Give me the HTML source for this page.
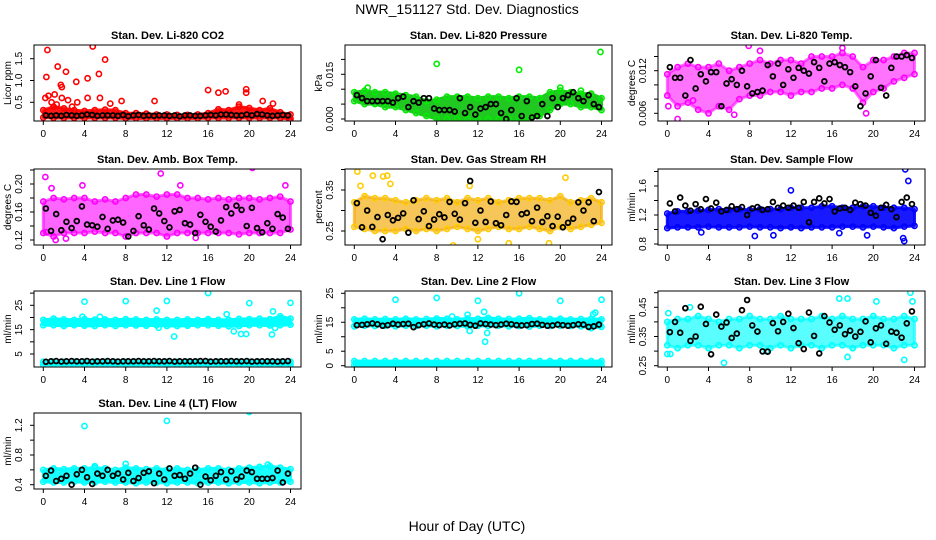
<!DOCTYPE html>
<html><head><meta charset="utf-8"><style>
html,body{margin:0;padding:0;background:#fff;}
svg{display:block;font-family:"Liberation Sans",sans-serif;}
</style></head><body>
<svg id="chart" width="936" height="540" viewBox="0 0 936 540">
<text x="467" y="14" text-anchor="middle" font-size="14">NWR_151127  Std. Dev. Diagnostics</text>
<text x="467" y="531" text-anchor="middle" font-size="14">Hour of Day (UTC)</text>
</svg>
<script>
const hours = [0,1,2,3,4,5,6,7,8,9,10,11,12,13,14,15,16,17,18,19,20,21,22,23,24];
const xTicks = [0,4,8,12,16,20,24];

const co2Lo = [0.15,0.14,0.14,0.14,0.14,0.14,0.14,0.14,0.13,0.13,0.13,0.13,0.13,0.13,0.13,0.13,0.14,0.14,0.14,0.14,0.14,0.14,0.14,0.14,0.12];
const co2Hi = [0.32,0.4,0.36,0.32,0.3,0.32,0.33,0.32,0.25,0.25,0.24,0.22,0.22,0.21,0.21,0.22,0.25,0.34,0.32,0.4,0.37,0.32,0.36,0.27,0.22];
const co2Black = [0.2,0.19,0.2,0.19,0.21,0.2,0.19,0.2,0.22,0.21,0.19,0.2,0.2,0.2,0.19,0.21,0.18,0.2,0.21,0.19,0.2,0.19,0.2,0.2,0.19,0.2,0.18,0.2,0.2,0.19,0.19,0.2,0.21,0.2,0.22,0.22,0.21,0.2,0.2,0.22,0.2,0.23,0.22,0.2,0.19,0.2,0.21,0.2];
const co2Out = [[0.4,1.7],[0.3,1.08],[0.2,0.6],[0.5,0.65],[1.4,1.32],[1.7,0.9],[1.8,0.85],[2.2,1.2],[3.2,0.97],[4.3,1.05],[4.8,1.78],[5.4,1.15],[6,1.48],[1.1,0.68],[1.8,0.6],[4.3,0.6],[5.5,0.6],[10.8,0.53],[16,0.78],[17,0.72],[17.7,0.75],[19.7,0.8],[19.7,0.72],[21.3,0.53],[7.6,0.53],[2.4,0.55],[3.3,0.5],[6.5,0.47],[23.9,0.1],[1.3,0.45],[0.8,0.5],[2.8,0.4],[19,0.45],[22.3,0.47]];
const co2Ticks = [0.5,1.0,1.5];
const co2Labels = ["0.5","1.0","1.5"];

const prsLo = [0.006,0.005,0.005,0.004,0.004,0.003,0.002,0.001,0.0,0.0,0.0,0.0,0.0,0.0,0.0,0.0,0.0,0.0,0.001,0.003,0.005,0.005,0.004,0.004,0.003];
const prsHi = [0.009,0.0095,0.009,0.009,0.0085,0.008,0.0075,0.006,0.0065,0.0075,0.0075,0.0075,0.007,0.0075,0.0075,0.007,0.0075,0.0075,0.007,0.009,0.0095,0.009,0.0085,0.0085,0.007];
const prsBlack = [0.008,0.007,0.006,0.006,0.006,0.006,0.006,0.0055,0.007,0.0075,0.004,0.006,0.0055,0.007,0.007,0.0035,0.003,0.003,0.003,0.0025,0.007,0.002,0.004,0.0015,0.0035,0.004,0.005,0.005,0.002,0.0,0.003,0.007,0.001,0.006,0.0005,0.001,0.005,0.001,0.007,0.004,0.007,0.008,0.009,0.007,0.006,0.008,0.005,0.004];
const prsOut = [[8,0.0185],[16,0.0165],[23.9,0.0225],[20,0.0105],[1.3,0.0105],[22,0.0095]];
const prsTicks = [0.000,0.005,0.010,0.015,0.020];
const prsLabels = ["0.000","","","0.015",""];

const tmpLo = [0.0085,0.007,0.0075,0.0065,0.006,0.007,0.0065,0.008,0.0085,0.0085,0.009,0.009,0.0085,0.009,0.009,0.0095,0.0095,0.01,0.0095,0.0075,0.009,0.0095,0.0105,0.011,0.0115];
const tmpHi = [0.0115,0.0125,0.013,0.0125,0.0125,0.013,0.012,0.0125,0.013,0.0135,0.013,0.0135,0.0135,0.013,0.014,0.014,0.014,0.0145,0.014,0.0125,0.0135,0.0135,0.014,0.0145,0.0145];
const tmpBlack = [0.0125,0.011,0.011,0.0085,0.0135,0.0095,0.0115,0.0105,0.0118,0.0118,0.007,0.0102,0.0108,0.0100,0.0120,0.0098,0.0088,0.0090,0.0092,0.0128,0.0112,0.0130,0.0100,0.0122,0.0110,0.0124,0.0120,0.0116,0.0132,0.0124,0.0105,0.0130,0.0132,0.0128,0.0125,0.0118,0.0098,0.0070,0.0088,0.0112,0.0135,0.0096,0.0085,0.0124,0.0140,0.0140,0.0142,0.0138];
const tmpOut = [[0.1,0.007],[1,0.0052],[7.9,0.0155],[9,0.0148],[19.3,0.006],[17,0.0152],[2.5,0.0078],[6.5,0.0058]];
const tmpTicks = [0.006,0.008,0.010,0.012,0.014];
const tmpLabels = ["0.006","","","0.012",""];

const ambLo = [0.13,0.125,0.13,0.13,0.13,0.132,0.13,0.13,0.125,0.13,0.13,0.13,0.125,0.13,0.13,0.13,0.13,0.13,0.13,0.128,0.13,0.13,0.13,0.13,0.135];
const ambHi = [0.175,0.18,0.178,0.18,0.18,0.175,0.178,0.175,0.18,0.185,0.185,0.182,0.185,0.185,0.18,0.18,0.178,0.18,0.178,0.18,0.18,0.178,0.18,0.182,0.175];
const ambBlack = [0.165,0.133,0.157,0.134,0.146,0.137,0.147,0.168,0.142,0.141,0.139,0.153,0.136,0.148,0.149,0.145,0.125,0.133,0.154,0.141,0.135,0.165,0.158,0.147,0.138,0.161,0.163,0.144,0.142,0.130,0.156,0.146,0.139,0.132,0.148,0.167,0.158,0.169,0.163,0.140,0.166,0.137,0.131,0.144,0.136,0.157,0.152,0.136];
const ambOut = [[0.2,0.21],[9.6,0.225],[11.4,0.215],[20.3,0.223],[0.3,0.131],[1.2,0.12],[3.8,0.198],[23.5,0.198],[13.3,0.198],[0.8,0.194],[2.2,0.122],[14.8,0.123]];
const ambTicks = [0.12,0.14,0.16,0.18,0.20,0.22];
const ambLabels = ["0.12","","0.16","","0.20",""];

const rhLo = [0.26,0.255,0.25,0.25,0.25,0.255,0.25,0.255,0.25,0.255,0.26,0.255,0.25,0.255,0.26,0.255,0.255,0.26,0.255,0.25,0.26,0.255,0.26,0.265,0.27];
const rhHi = [0.32,0.335,0.33,0.33,0.325,0.32,0.325,0.33,0.325,0.33,0.32,0.33,0.325,0.33,0.32,0.325,0.33,0.33,0.33,0.325,0.335,0.32,0.325,0.33,0.32];
const rhBlack = [0.318,0.259,0.300,0.260,0.284,0.230,0.289,0.276,0.282,0.293,0.246,0.325,0.279,0.298,0.262,0.278,0.291,0.283,0.321,0.292,0.278,0.318,0.372,0.270,0.300,0.272,0.322,0.269,0.264,0.289,0.322,0.321,0.291,0.294,0.274,0.307,0.272,0.286,0.262,0.285,0.259,0.270,0.280,0.320,0.300,0.320,0.274,0.345];
const rhOut = [[0.3,0.395],[1.8,0.385],[2.8,0.383],[3.2,0.385],[9.6,0.215],[20.5,0.38],[12,0.23],[18.9,0.22],[15,0.22],[0.6,0.36],[3.5,0.365],[11.2,0.36]];
const rhTicks = [0.25,0.30,0.35,0.40];
const rhLabels = ["0.25","","0.35",""];

const sfLo = [1.02,1.03,1.03,1.03,1.04,1.03,1.03,1.03,1.04,1.03,1.03,1.02,1.03,1.02,1.03,1.03,1.03,1.04,1.04,1.03,1.04,1.03,1.02,1.04,1.05];
const sfHi = [1.22,1.25,1.25,1.26,1.27,1.28,1.27,1.28,1.27,1.28,1.28,1.28,1.3,1.3,1.3,1.32,1.32,1.3,1.3,1.32,1.32,1.3,1.3,1.3,1.28];
const sfBlack = [1.36,1.25,1.44,1.33,1.26,1.35,1.28,1.42,1.29,1.37,1.25,1.27,1.32,1.28,1.31,1.20,1.29,1.31,1.27,1.28,1.38,1.30,1.33,1.30,1.33,1.30,1.38,1.10,1.38,1.43,1.36,1.42,1.25,1.29,1.30,1.27,1.37,1.35,1.33,1.23,1.19,1.30,1.34,1.28,1.17,1.38,1.44,1.35];
const sfOut = [[23.1,1.83],[23.4,1.67],[22.9,0.88],[23,0.84],[12,1.54],[8.5,0.91],[19.4,0.92],[3.3,0.96],[16.7,0.95],[10.3,0.92]];
const sfTicks = [0.8,1.0,1.2,1.4,1.6,1.8];
const sfLabels = ["0.8","","1.2","","1.6",""];

const l1Lo = [16.8,16.8,16.5,16.8,16.6,16.5,16.8,16.5,16.8,16.7,16.6,16.8,16.5,16.5,16.6,16.8,16.8,16.6,16.4,16.5,16.8,16.8,16.7,16.8,17];
const l1Hi = [19,19.5,19.2,19,19.3,19.1,19.2,19,19.3,19.2,19,19.2,19,19,19.2,19,19.3,19,19,19.4,19.3,19.5,19.3,20.5,19.5];
const l1Lo2 = [0.6,0.6,0.6,0.6,0.6,0.6,0.6,0.6,0.6,0.6,0.6,0.6,0.6,0.6,0.6,0.6,0.6,0.6,0.6,0.6,0.6,0.6,0.6,0.6,0.6];
const l1Hi2 = [1.8,1.8,1.8,1.8,1.8,1.8,1.8,1.8,1.8,1.8,1.8,1.8,1.8,1.8,1.8,1.8,1.8,1.8,1.8,1.8,1.8,1.8,1.8,1.8,1.8];
const l1Black = [1.8,2.0,2.1,1.9,2.0,2.1,2.0,2.0,2.1,1.9,2.0,2.0,2.1,2.0,1.9,2.0,2.0,2.0,2.1,2.0,2.0,2.1,2.0,2.0,2.1,1.9,2.0,2.0,2.0,2.0,2.1,2.1,1.9,2.0,2.0,2.0,2.1,2.0,2.0,2.1,1.9,2.0,2.0,2.0,2.0,1.9,2.0,2.1];
const l1Out = [[4,26.5],[8,26.7],[12,26.8],[16,30],[20,25.9],[24,26],[11,22.8],[22.3,22.5],[17.8,21.3],[12.7,12.2],[18.5,14.3],[19.2,13.2],[19.7,13.2],[22.2,13],[3.8,20.3],[5.5,20.3],[11.2,15.8],[22.5,15.7]];
const l1Ticks = [5,10,15,20,25,30];
const l1Labels = ["5","","15","","25",""];

const l2Lo = [13.6,13.8,13.7,13.8,13.6,13.8,13.7,13.8,13.6,13.8,13.7,13.6,13.8,13.7,13.8,13.6,13.7,13.5,13.8,13.7,13.8,13.7,13.6,13.0,13.4];
const l2Hi = [16,16.2,16,16.1,16,16.2,16,16.1,16.3,16.2,16,16.3,16.2,16.5,16.2,16.1,16.2,16.4,16,16.1,16.2,16,16.1,16.2,16];
const l2Lo2 = [0.2,0.2,0.2,0.2,0.2,0.2,0.2,0.2,0.2,0.2,0.2,0.2,0.2,0.2,0.2,0.2,0.2,0.2,0.2,0.2,0.2,0.2,0.2,0.2,0.2];
const l2Hi2 = [1.6,1.6,1.6,1.6,1.6,1.6,1.6,1.6,1.6,1.6,1.6,1.6,1.6,1.6,1.6,1.6,1.6,1.6,1.6,1.6,1.6,1.6,1.6,1.6,1.6];
const l2Black = [14.0,14.1,14.3,14.6,14.3,13.8,14.0,14.5,14.2,14.4,14.5,13.3,14.0,14.3,14.6,14.2,14.0,14.2,13.9,14.3,14.5,14.6,14.1,13.8,14.6,14.4,14.2,14.0,14.2,14.5,14.3,14.0,13.9,14.0,14.4,14.5,14.1,13.8,13.9,14.2,14.0,13.8,14.0,14.3,14.2,13.4,13.6,14.2];
const l2Out = [[4,22.8],[8,23.4],[12,22.4],[16,25],[20,22.4],[24,22.8],[12.7,8.3],[12.9,11.3],[11,17.6],[11.2,12],[12.6,18.6],[23.2,17.8],[23.4,18.3],[9.5,17]];
const l2Ticks = [0,5,10,15,20,25];
const l2Labels = ["0","5","","15","","25"];

const l3Lo = [0.32,0.31,0.32,0.32,0.31,0.32,0.32,0.31,0.32,0.32,0.31,0.32,0.31,0.32,0.32,0.31,0.32,0.32,0.31,0.32,0.32,0.32,0.31,0.32,0.32];
const l3Hi = [0.4,0.41,0.41,0.42,0.41,0.4,0.41,0.41,0.42,0.41,0.41,0.42,0.41,0.41,0.41,0.42,0.41,0.42,0.41,0.41,0.42,0.41,0.41,0.42,0.41];
const l3Black = [0.365,0.400,0.363,0.447,0.335,0.350,0.452,0.393,0.289,0.425,0.384,0.398,0.345,0.360,0.440,0.475,0.388,0.367,0.299,0.298,0.396,0.368,0.400,0.428,0.379,0.327,0.307,0.432,0.352,0.292,0.420,0.398,0.373,0.388,0.358,0.370,0.350,0.366,0.402,0.330,0.378,0.388,0.325,0.367,0.363,0.346,0.395,0.436];
const l3Out = [[0,0.29],[0.3,0.29],[5.5,0.26],[23,0.27],[17.5,0.28],[16.7,0.48],[17.5,0.48],[23.6,0.5],[23.8,0.47],[2.2,0.45],[20.3,0.47],[0.1,0.43],[9.6,0.3]];
const l3Ticks = [0.25,0.30,0.35,0.40,0.45,0.50];
const l3Labels = ["0.25","","0.35","","0.45",""];

const l4Lo = [0.44,0.43,0.43,0.44,0.43,0.43,0.44,0.43,0.43,0.42,0.43,0.43,0.42,0.43,0.43,0.42,0.43,0.43,0.42,0.43,0.43,0.42,0.43,0.43,0.44];
const l4Hi = [0.6,0.62,0.61,0.62,0.62,0.63,0.62,0.6,0.63,0.62,0.61,0.62,0.6,0.62,0.6,0.6,0.62,0.62,0.6,0.62,0.63,0.64,0.65,0.63,0.61];
const l4Black = [0.52,0.59,0.45,0.48,0.52,0.40,0.54,0.60,0.50,0.41,0.55,0.52,0.60,0.52,0.55,0.47,0.56,0.45,0.49,0.56,0.58,0.42,0.55,0.47,0.62,0.52,0.53,0.48,0.55,0.63,0.40,0.51,0.46,0.52,0.57,0.47,0.58,0.47,0.51,0.59,0.57,0.48,0.48,0.48,0.49,0.59,0.43,0.55];
const l4Out = [[4,1.19],[12,1.26],[20,1.38],[8,0.68],[5,0.65],[21.8,0.67]];
const l4Ticks = [0.4,0.6,0.8,1.0,1.2];
const l4Labels = ["0.4","","0.8","","1.2"];

const NS = "http://www.w3.org/2000/svg";
const svg = document.getElementById("chart");
function mk(tag, attrs, parent){
  const e = document.createElementNS(NS, tag);
  for (const k in attrs) e.setAttribute(k, attrs[k]);
  (parent||svg).appendChild(e);
  return e;
}
const panels = [
 {key:"co2",title:"Stan. Dev. Li-820 CO2",ylab:"Licor ppm",left:34,top:45,color:"#ff0000",band:"#ff0000",op:0.9,v1:1.5,y1:58.7,v2:0.5,y2:102.3,lo:co2Lo,hi:co2Hi,blk:co2Black,out:co2Out,ticks:co2Ticks,labels:co2Labels},
 {key:"pressure",title:"Stan. Dev. Li-820 Pressure",ylab:"kPa",left:345,top:45,color:"#00ee00",band:"#22c822",op:1,v1:0.015,y1:74.3,v2:0,y2:119,lo:prsLo,hi:prsHi,blk:prsBlack,out:prsOut,ticks:prsTicks,labels:prsLabels},
 {key:"temp",title:"Stan. Dev. Li-820 Temp.",ylab:"degrees C",left:658,top:45,color:"#ff00ff",band:"#ff00ff",op:0.55,v1:0.012,y1:70.7,v2:0.006,y2:113.3,lo:tmpLo,hi:tmpHi,blk:tmpBlack,out:tmpOut,ticks:tmpTicks,labels:tmpLabels},
 {key:"ambtemp",title:"Stan. Dev. Amb. Box Temp.",ylab:"degrees C",left:34,top:169,color:"#ff00ff",band:"#ff00ff",op:0.6,v1:0.20,y1:184,v2:0.12,y2:240,lo:ambLo,hi:ambHi,blk:ambBlack,out:ambOut,ticks:ambTicks,labels:ambLabels},
 {key:"rh",title:"Stan. Dev. Gas Stream RH",ylab:"percent",left:345,top:169,color:"#ffcc00",band:"#f2a800",op:0.65,v1:0.35,y1:190,v2:0.25,y2:231,lo:rhLo,hi:rhHi,blk:rhBlack,out:rhOut,ticks:rhTicks,labels:rhLabels},
 {key:"sampleflow",title:"Stan. Dev. Sample Flow",ylab:"ml/min",left:658,top:169,color:"#0000ff",band:"#0000ff",op:0.9,v1:1.6,y1:186,v2:0.8,y2:244,lo:sfLo,hi:sfHi,blk:sfBlack,out:sfOut,ticks:sfTicks,labels:sfLabels},
 {key:"line1",title:"Stan. Dev. Line 1 Flow",ylab:"ml/min",left:34,top:291,color:"#00ffff",band:"#00ffff",op:1,v1:25,y1:305.3,v2:5,y2:354,lo:l1Lo,hi:l1Hi,lo2:l1Lo2,hi2:l1Hi2,blk:l1Black,out:l1Out,ticks:l1Ticks,labels:l1Labels},
 {key:"line2",title:"Stan. Dev. Line 2 Flow",ylab:"ml/min",left:345,top:291,color:"#00ffff",band:"#00ffff",op:1,v1:25,y1:293.3,v2:0,y2:365.7,lo:l2Lo,hi:l2Hi,lo2:l2Lo2,hi2:l2Hi2,blk:l2Black,out:l2Out,ticks:l2Ticks,labels:l2Labels},
 {key:"line3",title:"Stan. Dev. Line 3 Flow",ylab:"ml/min",left:658,top:291,color:"#00ffff",band:"#00ffff",op:0.65,v1:0.45,y1:307.3,v2:0.25,y2:365.7,lo:l3Lo,hi:l3Hi,blk:l3Black,out:l3Out,ticks:l3Ticks,labels:l3Labels},
 {key:"line4",title:"Stan. Dev. Line 4 (LT) Flow",ylab:"ml/min",left:34,top:413,color:"#00ffff",band:"#00ffff",op:0.9,v1:1.2,y1:425.3,v2:0.4,y2:484.7,lo:l4Lo,hi:l4Hi,blk:l4Black,out:l4Out,ticks:l4Ticks,labels:l4Labels}
];
const W = 267, H = 76;
panels.forEach(p => {
  const g = mk("g", {});
  
  
  const L = p.left, T = p.top, B = p.top + H;
  const xs = h => L + 9.3 + h * 10.3;
  const ys = v => p.y1 + (v - p.v1) * (p.y2 - p.y1) / (p.v2 - p.v1);
  const clip = "clip-" + p.key;
  const cp = mk("clipPath", {id: clip}, g);
  mk("rect", {x: L, y: T, width: W, height: H}, cp);
  const plot = mk("g", {"clip-path": "url(#" + clip + ")"}, g);
  
  
  const bands = [[p.lo, p.hi]];
  if (p.lo2) bands.push([p.lo2, p.hi2]);
  bands.forEach(([lo, hi]) => {
    let pts = hours.map((h, i) => xs(h) + "," + ys(hi[i]));
    pts = pts.concat(hours.slice().reverse().map((h, j) => xs(h) + "," + ys(lo[hours.length - 1 - j])));
    const poly = mk("polygon", {points: pts.join(" "), fill: p.band, "fill-opacity": p.op, stroke: p.band, "stroke-opacity": p.op, "stroke-width": 3, "stroke-linejoin": "round"}, plot);
    
    
    hours.forEach((h, i) => {
      [lo[i], hi[i]].forEach(v => {
        const c = mk("circle", {cx: xs(h), cy: ys(v), r: 2.6, fill: "none", stroke: p.color, "stroke-width": 1.6}, plot);
        
        
      });
    });
  });
  p.out.forEach(o => {
    const c = mk("circle", {cx: xs(o[0]), cy: ys(o[1]), r: 2.6, fill: "none", stroke: p.color, "stroke-width": 1.6}, plot);
    
    
  });
  p.blk.forEach((v, i) => {
    const c = mk("circle", {cx: xs(0.25 + i * 0.5), cy: ys(v), r: 2.4, fill: "none", stroke: "#000", "stroke-width": 1.8}, plot);
    
    
  });
  const box = mk("rect", {x: L, y: T, width: W, height: H, fill: "none", stroke: "#000", "stroke-width": 1}, g);
  
  
  const t = mk("text", {x: L + W / 2, y: T - 6, "text-anchor": "middle", "font-size": 11, "font-weight": "bold"}, g);
  t.textContent = p.title;
  
  
  const yl = mk("text", {x: L - 23, y: T + H / 2, "text-anchor": "middle", "font-size": 10, transform: "rotate(-90 " + (L - 23) + " " + (T + H / 2) + ")"}, g);
  yl.textContent = p.ylab;
  
  
  xTicks.forEach(h => {
    const x = xs(h);
    mk("line", {x1: x, x2: x, y1: B, y2: B + 4, stroke: "#000"}, g);
    const tl = mk("text", {x: x, y: B + 16, "text-anchor": "middle", "font-size": 10}, g);
    tl.textContent = h;
    
    
  });
  p.ticks.forEach((v, i) => {
    const y = ys(v);
    mk("line", {x1: L - 4, x2: L, y1: y, y2: y, stroke: "#000"}, g);
    if (p.labels[i]) {
      const tl = mk("text", {x: L - 12, y: y, "text-anchor": "middle", "font-size": 10, transform: "rotate(-90 " + (L - 12) + " " + y + ")"}, g);
      tl.textContent = p.labels[i];
      
      
    }
  });
});
</script>
</body></html>
